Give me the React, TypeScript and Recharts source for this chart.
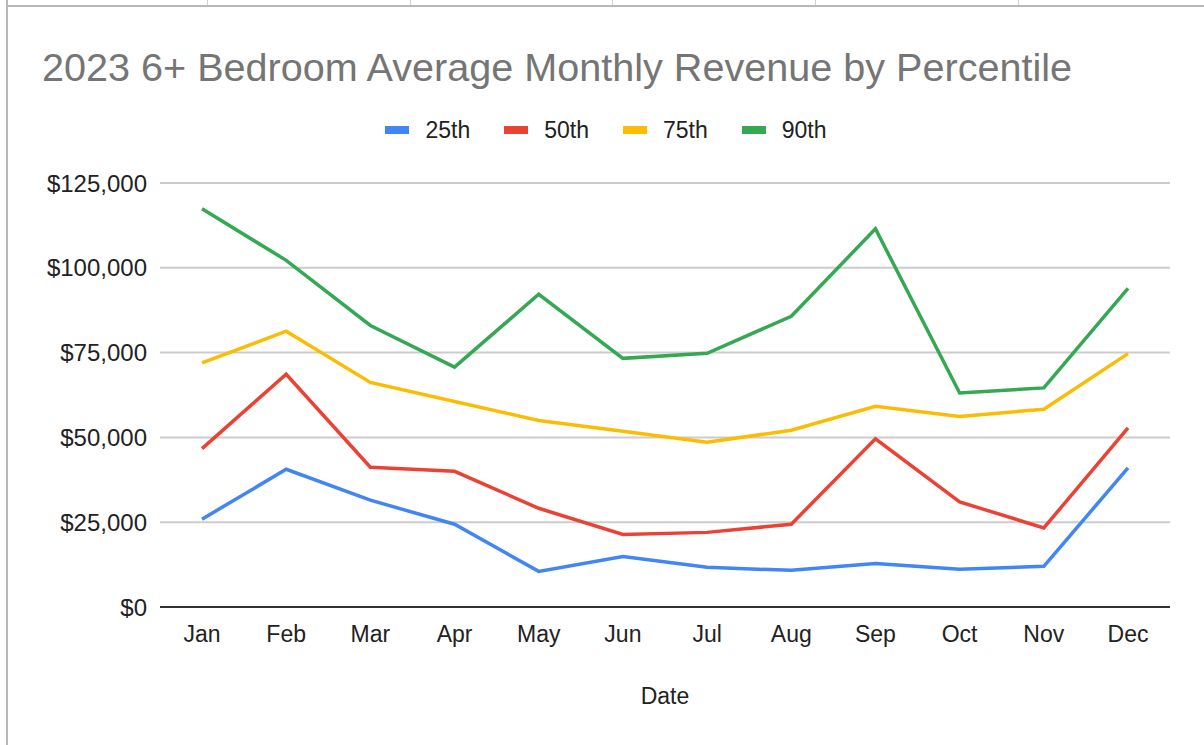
import { LineChart, Line, XAxis, YAxis, CartesianGrid, Legend } from 'recharts';

const months = ['Jan', 'Feb', 'Mar', 'Apr', 'May', 'Jun', 'Jul', 'Aug', 'Sep', 'Oct', 'Nov', 'Dec'];

const p25 = [25900, 40600, 31500, 24400, 10500, 14900, 11700, 10800, 12800, 11100, 12000, 41000];
const p50 = [46700, 68600, 41200, 40000, 29100, 21400, 22000, 24400, 49600, 31000, 23300, 52800];
const p75 = [72000, 81300, 66200, 60600, 55000, 51800, 48600, 52100, 59200, 56200, 58300, 74700];
const p90 = [117400, 102200, 83000, 70700, 92200, 73300, 74800, 85700, 111500, 63100, 64600, 93900];

const yTicks = [0, 25000, 50000, 75000, 100000, 125000];

const series = [
  { key: 'p25', name: '25th', color: '#4285F4' },
  { key: 'p50', name: '50th', color: '#EA4335' },
  { key: 'p75', name: '75th', color: '#FBBC04' },
  { key: 'p90', name: '90th', color: '#34A853' },
];

const data = months.map((month, i) => ({
  month,
  p25: p25[i],
  p50: p50[i],
  p75: p75[i],
  p90: p90[i],
}));

const font = '"Liberation Sans", Arial, sans-serif';
const money = (v: number) => '$' + v.toLocaleString('en-US');

function ChartLegend() {
  return (
    <div style={{ display: 'flex', justifyContent: 'center', alignItems: 'center', paddingLeft: 8, fontFamily: font }}>
      {series.map((s, i) => (
        <div key={s.key} style={{ display: 'flex', alignItems: 'center', marginLeft: i ? 34 : 0 }}>
          <span style={{ display: 'inline-block', width: 24, height: 8, background: s.color, marginRight: 16 }} />
          <span style={{ fontSize: 23, color: '#222', lineHeight: '26px' }}>{s.name}</span>
        </div>
      ))}
    </div>
  );
}

export default function App() {
  return (
    <div
      style={{
        position: 'absolute',
        left: 0,
        top: 0,
        width: 1204,
        height: 745,
        background: '#fff',
        overflow: 'hidden',
        fontFamily: font,
      }}
    >
      {/* sheet cell borders behind the chart */}
      {[207, 410, 612, 815, 1018].map((x) => (
        <div key={x} style={{ position: 'absolute', left: x, top: 0, width: 1, height: 6, background: '#d0d0d0' }} />
      ))}
      <div style={{ position: 'absolute', left: 6, top: 5, width: 1198, height: 2, background: '#b8b8b8' }} />
      <div style={{ position: 'absolute', left: 6, top: 0, width: 2, height: 745, background: '#b8b8b8' }} />

      <div
        style={{
          position: 'absolute',
          left: 42,
          top: 47,
          fontSize: 39.6,
          lineHeight: '40px',
          color: '#757575',
          whiteSpace: 'nowrap',
        }}
      >
        2023 6+ Bedroom Average Monthly Revenue by Percentile
      </div>

      <LineChart
        width={1204}
        height={745}
        data={data}
        margin={{ top: 183, right: 34, bottom: 0, left: 0 }}
        style={{ position: 'absolute', left: 0, top: 0 }}
      >
        <CartesianGrid vertical={false} stroke="#cccccc" strokeWidth={2} />
        <XAxis
          dataKey="month"
          height={138}
          padding={{ left: 42, right: 42 }}
          tickLine={false}
          tickSize={0}
          tickMargin={19}
          axisLine={{ stroke: '#333333', strokeWidth: 2 }}
          tick={{ fill: '#222222', fontSize: 23, fontFamily: font }}
          label={{ value: 'Date', position: 'insideBottom', offset: 41, fill: '#222222', fontSize: 23, fontFamily: font }}
        />
        <YAxis
          width={160}
          domain={[0, 125000]}
          ticks={yTicks}
          tickFormatter={money}
          axisLine={false}
          tickLine={false}
          tickSize={0}
          tickMargin={13}
          tick={{ fill: '#222222', fontSize: 24, fontFamily: font }}
        />
        <Legend
          layout="horizontal"
          align="center"
          verticalAlign="middle"
          wrapperStyle={{ top: 117, left: 0, width: 1204 }}
          content={() => <ChartLegend />}
        />
        {series.map((s) => (
          <Line
            key={s.key}
            type="linear"
            dataKey={s.key}
            name={s.name}
            stroke={s.color}
            strokeWidth={3.5}
            dot={false}
            activeDot={false}
            isAnimationActive={false}
          />
        ))}
      </LineChart>
    </div>
  );
}
